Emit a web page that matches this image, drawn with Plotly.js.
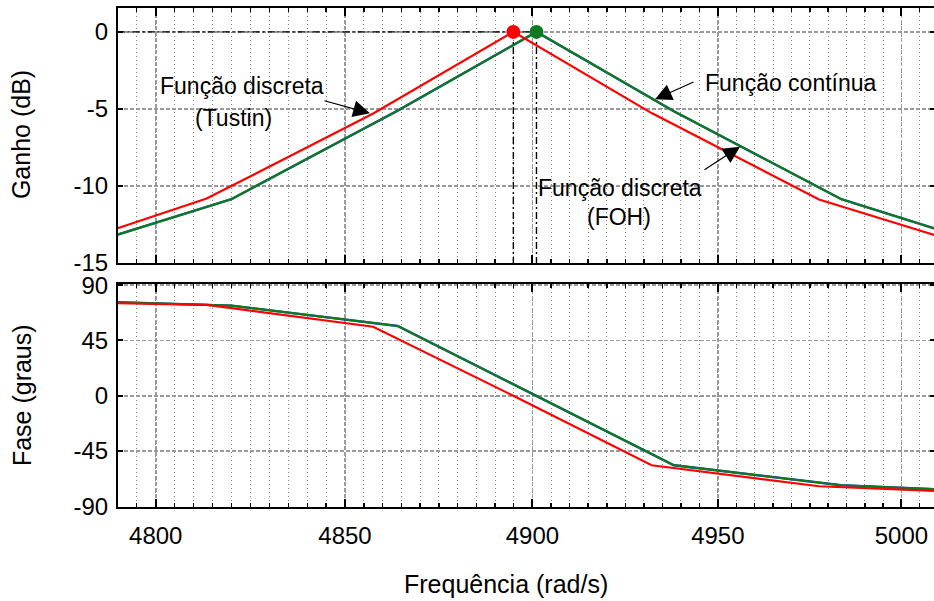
<!DOCTYPE html>
<html>
<head>
<meta charset="utf-8">
<script src="https://cdn.plot.ly/plotly-3.0.1.min.js"></script>
<style>
html, body { margin: 0; padding: 0; overflow: hidden; background: #fff; }
#chart { width: 937px; height: 601px; }
</style>
</head>
<body>
<div id="chart"></div>
<script>
// ---- Data (frequency in rad/s, gain in dB, phase in degrees) ----
const freqTustin  = [4790, 4813.4, 4857.5, 4894.9, 4932.1, 4977.5, 5009.2];
const gainTustin  = [-12.75, -10.82, -5.30, 0, -5.27, -10.88, -13.2];
const phaseTustin = [75.3, 73.9, 56.2, 0, -56.5, -73.6, -77.4];

const freqCont    = [4790, 4819.9, 4864.0, 4901.1, 4938.1, 4983.6, 5009.2];
const gainCont    = [-13.16, -10.86, -5.11, 0, -5.15, -10.86, -12.77];
const phaseCont   = [76.1, 73.4, 56.8, 0, -56.5, -72.8, -76.0];

// FOH discrete function coincides with the continuous one
const freqFOH     = [4790, 4819.9, 4864.0, 4901.1, 4938.1, 4983.6, 5009.2];
const gainFOH     = [-13.16, -10.86, -5.11, 0, -5.15, -10.86, -12.77];
const phaseFOH    = [76.1, 73.4, 56.8, 0, -56.5, -72.8, -76.0];

const peakTustin  = {f: 4894.9, g: 0};
const peakFOH     = {f: 4901.1, g: 0};

const xTickVals   = [4800, 4850, 4900, 4950, 5000];
const xTickText   = ['4800', '4850', '4900', '4950', '5000'];
const gainTicks   = [0, -5, -10, -15];
const gainText    = ['0', '-5', '-10', '-15'];
const phaseTicks  = [90, 45, 0, -45, -90];
const phaseText   = ['90', '45', '0', '-45', '-90'];

const RED = '#ff0000', GREEN = '#0e7a1f', BLUE = '#2040c0';
const FONT = 'Liberation Sans, Arial, Helvetica, sans-serif';
const DASHDOT = '7px,3px,2px,3px';

const traces = [
  // gain
  {x: freqCont, y: gainCont, xaxis: 'x', yaxis: 'y', mode: 'lines', line: {color: BLUE, width: 2.4}},
  {x: freqFOH, y: gainFOH, xaxis: 'x', yaxis: 'y', mode: 'lines', line: {color: GREEN, width: 2.2}},
  {x: freqTustin, y: gainTustin, xaxis: 'x', yaxis: 'y', mode: 'lines', line: {color: RED, width: 2.2}},
  // reference dash-dot lines at the peaks
  {x: [freqTustin[0], peakFOH.f], y: [peakTustin.g, peakFOH.g], xaxis: 'x', yaxis: 'y', mode: 'lines', line: {color: '#000', width: 1.4, dash: DASHDOT}},
  {x: [peakTustin.f, peakTustin.f], y: [peakTustin.g, gainTicks[3]], xaxis: 'x', yaxis: 'y', mode: 'lines', line: {color: '#000', width: 1.4, dash: DASHDOT}},
  {x: [peakFOH.f, peakFOH.f], y: [peakFOH.g, gainTicks[3]], xaxis: 'x', yaxis: 'y', mode: 'lines', line: {color: '#000', width: 1.4, dash: DASHDOT}},
  {x: [peakTustin.f], y: [peakTustin.g], xaxis: 'x', yaxis: 'y', mode: 'markers', marker: {color: RED, size: 14}},
  {x: [peakFOH.f], y: [peakFOH.g], xaxis: 'x', yaxis: 'y', mode: 'markers', marker: {color: GREEN, size: 14}},
  // phase
  {x: freqCont, y: phaseCont, xaxis: 'x2', yaxis: 'y2', mode: 'lines', line: {color: BLUE, width: 2.4}},
  {x: freqFOH, y: phaseFOH, xaxis: 'x2', yaxis: 'y2', mode: 'lines', line: {color: GREEN, width: 2.2}},
  {x: freqTustin, y: phaseTustin, xaxis: 'x2', yaxis: 'y2', mode: 'lines', line: {color: RED, width: 2.2}}
];

const axisCommon = {
  showline: true, linecolor: '#000', linewidth: 2, mirror: 'ticks',
  ticks: 'inside', ticklen: 8, tickwidth: 2, tickcolor: '#000',
  showgrid: true, gridcolor: '#9a9a9a', gridwidth: 1.6, griddash: '4px,2px',
  zeroline: false, tickfont: {family: FONT, size: 24, color: '#000'}
};
const xRange = [Math.log10(4790.1), Math.log10(5009.2)];
const xMinor = {dtick: 'L5', tick0: 4800, ticks: 'inside', ticklen: 4, tickwidth: 1.5, tickcolor: '#000',
                showgrid: true, gridcolor: '#808080', gridwidth: 1, griddash: '1px,3px'};

const txt = (x, y, s) => ({xref: 'paper', yref: 'paper', x: x, y: y, text: s, showarrow: false,
                           font: {family: FONT, size: 23, color: '#000'}, xanchor: 'center', yanchor: 'middle'});
const arr = (x, y, ax, ay) => ({xref: 'paper', yref: 'paper', x: x, y: y, ax: ax, ay: ay, text: '', showarrow: true,
                           arrowhead: 2, arrowsize: 2.8, arrowwidth: 1.2, arrowcolor: '#000'});

const layout = {
  width: 937, height: 601,
  margin: {l: 118, r: 2, t: 8, b: 94},
  paper_bgcolor: '#fff', plot_bgcolor: '#fff',
  showlegend: false,
  font: {family: FONT, color: '#000'},
  xaxis: Object.assign({}, axisCommon, {type: 'log', range: xRange, anchor: 'y', domain: [0, 1],
    tickmode: 'array', tickvals: xTickVals, ticktext: xTickText, showticklabels: false, minor: xMinor}),
  xaxis2: Object.assign({}, axisCommon, {type: 'log', range: xRange, anchor: 'y2', domain: [0, 1],
    tickmode: 'array', tickvals: xTickVals, ticktext: xTickText, minor: xMinor, ticklabelstandoff: 6}),
  yaxis: Object.assign({}, axisCommon, {domain: [0.489, 1], range: [-15, 1.55], tickmode: 'array',
    tickvals: gainTicks, ticktext: gainText, ticklen: 5, ticklabelstandoff: 3}),
  yaxis2: Object.assign({}, axisCommon, {domain: [0, 0.447], range: [-90.5, 91], tickmode: 'array',
    tickvals: phaseTicks, ticktext: phaseText, ticklen: 5, ticklabelstandoff: 3}),
  annotations: [
    // axis titles
    {xref: 'paper', yref: 'paper', x: -0.118, y: 0.7465, text: 'Ganho (dB)', textangle: -90, showarrow: false,
     font: {family: FONT, size: 25}, xanchor: 'center', yanchor: 'middle'},
    {xref: 'paper', yref: 'paper', x: -0.118, y: 0.2234, text: 'Fase (graus)', textangle: -90, showarrow: false,
     font: {family: FONT, size: 25}, xanchor: 'center', yanchor: 'middle'},
    {xref: 'paper', yref: 'paper', x: 0.4755, y: -0.1543, text: 'Frequência (rad/s)', showarrow: false,
     font: {family: FONT, size: 25}, xanchor: 'center', yanchor: 'middle'},
    // labels
    txt(0.1518, 0.8437, 'Função discreta'),
    txt(0.1414, 0.7796, '(Tustin)'),
    txt(0.8237, 0.8497, 'Função contínua'),
    txt(0.6144, 0.6393, 'Função discreta'),
    txt(0.6132, 0.5812, '(FOH)'),
    // arrows
    arr(0.3084, 0.7890, -47, -13),
    arr(0.6573, 0.8170, 40, -18),
    arr(0.7613, 0.7220, -37, 24)
  ]
};

Plotly.newPlot('chart', traces, layout, {staticPlot: true, displayModeBar: false});
</script>
</body>
</html>
